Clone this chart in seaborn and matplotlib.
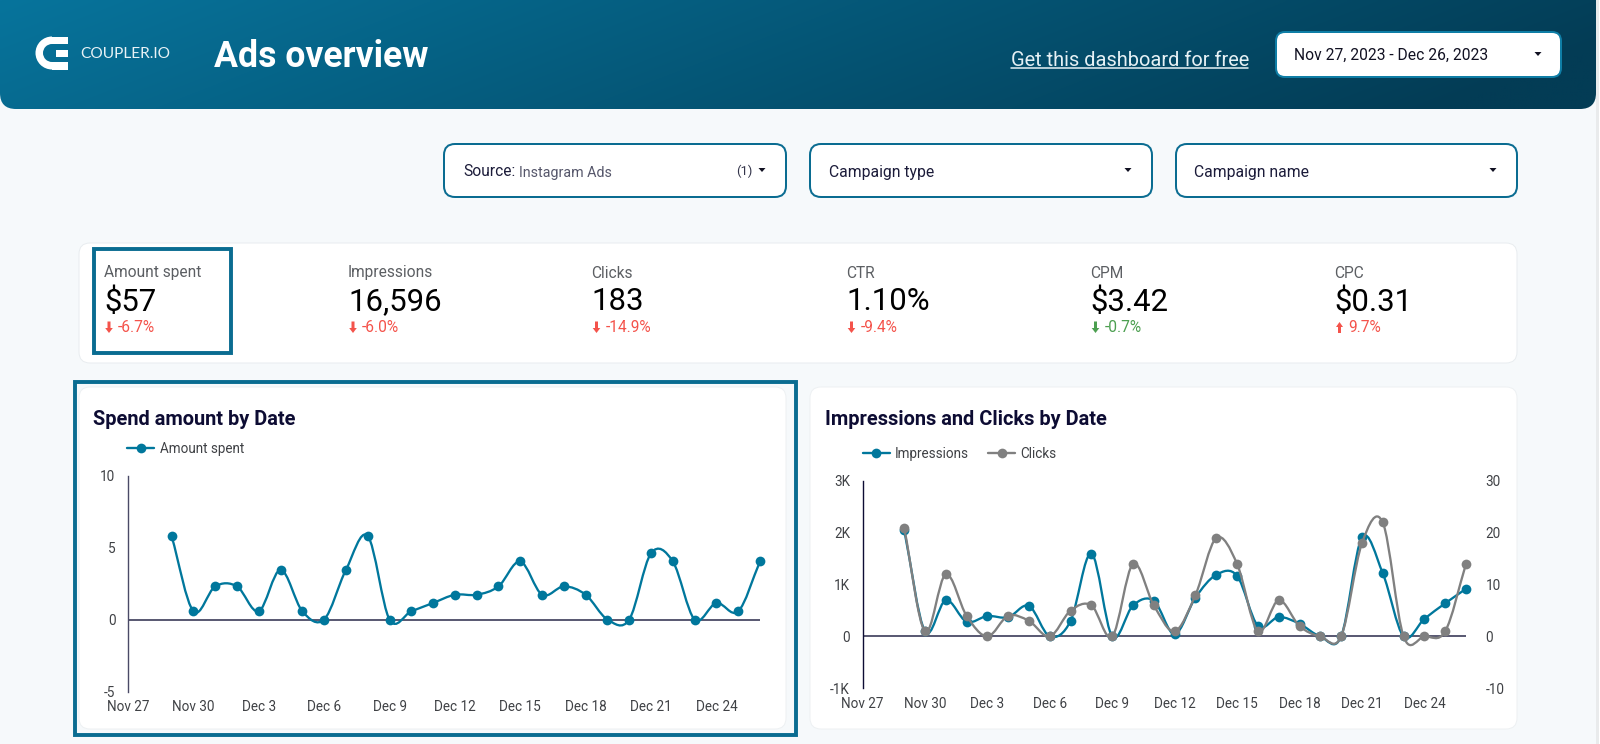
import numpy as np
import pandas as pd
import seaborn as sns
import matplotlib
matplotlib.use("Agg")
import matplotlib.pyplot as plt
import matplotlib.dates as mdates
from matplotlib.patches import FancyBboxPatch, PathPatch, Rectangle, Wedge, Polygon
from matplotlib.path import Path
from matplotlib.lines import Line2D

# ---------- data ----------
dates = pd.date_range("2023-11-29", "2023-12-26").tolist()
amount_spent = [5.8, 0.57, 2.3, 2.3, 0.57, 3.45, 0.57, 0, 3.45, 5.8, 0, 0.57, 1.15, 1.72,
                1.72, 2.3, 4.03, 1.72, 2.3, 1.72, 0, 0, 4.6, 4.03, 0, 1.15, 0.57, 4.03]
impressions = [2060, 100, 700, 285, 395, 370, 590, 0, 300, 1600, 0, 600, 690, 45,
               750, 1190, 1170, 205, 375, 245, 0, 0, 1910, 1220, 0, 340, 640, 920]
clicks = [21, 1, 12, 4, 0, 4, 3, 0, 5, 6, 0, 14, 6, 1,
          8, 19, 14, 1, 7, 2, 0, 0, 18, 22, 0, 0, 1, 14]
x_tick_dates = pd.date_range("2023-11-27", "2023-12-24", freq="3D").tolist()
x_tick_labels = ["Nov 27", "Nov 30", "Dec 3", "Dec 6", "Dec 9", "Dec 12", "Dec 15", "Dec 18", "Dec 21", "Dec 24"]
kpi_names = ["Amount spent", "Impressions", "Clicks", "CTR", "CPM", "CPC"]
kpi_values = ["$57", "16,596", "183", "1.10%", "$3.42", "$0.31"]
kpi_deltas = ["-6.7%", "-6.0%", "-14.9%", "-9.4%", "-0.7%", "9.7%"]
kpi_directions = ["down", "down", "down", "down", "down", "up"]
kpi_colors = ["#f4534b", "#f4534b", "#f4534b", "#f4534b", "#4c9f50", "#f4534b"]

# ---------- style ----------
sns.set_theme(style="white")
plt.rcParams["font.family"] = ["Roboto", "DejaVu Sans"]
BLUE = "#00779c"
GREY = "#808080"
FRAME = "#0a6c91"
NAVY = "#0d0c33"
AXIS = "#4a4a66"
TICK = "#3f4145"
W, H = 1600, 744


def fs(px):
    return px * 0.72


fig = plt.figure(figsize=(W / 100, H / 100), dpi=100, facecolor="#ffffff")
bg = fig.add_axes([0, 0, 1, 1], zorder=0)
bg.set_xlim(0, W)
bg.set_ylim(H, 0)
bg.axis("off")
bg.add_patch(Rectangle((0, 0), 1596, H, fc="#f6f9fb", ec="none"))
bg.add_patch(Rectangle((1596, 0), 3, H, fc="#e9ebec", ec="none"))


def rbox(x0, y0, x1, y1, r=10, fc="white", ec="none", lw=0, z=1):
    p = FancyBboxPatch((x0 + r, y0 + r), x1 - x0 - 2 * r, y1 - y0 - 2 * r,
                       boxstyle=f"round,pad={r},rounding_size={r}",
                       fc=fc, ec=ec, lw=lw * 0.72, zorder=z)
    bg.add_patch(p)
    return p


def txt(x, y, s, px, color="#000000", weight="normal", ha="left", family=None, z=5, va="center"):
    kw = {"family": family} if family else {}
    return bg.text(x, y, s, fontsize=fs(px), color=color, fontweight=weight,
                   ha=ha, va=va, zorder=z, **kw)


def caret(x, y, color="#111122"):
    bg.add_patch(Polygon([(x - 3.5, y - 2), (x + 3.5, y - 2), (x, y + 2)], fc=color, ec="none", zorder=5))


# ---------- header ----------
hdr = FancyBboxPatch((16, -30), 1596 - 32, 109 + 30 - 16, boxstyle="round,pad=16,rounding_size=16",
                     fc="none", ec="none", zorder=1)
bg.add_patch(hdr)
gx, gy = np.meshgrid(np.linspace(0, 1, 400), np.linspace(0, 1, 40))
t = np.clip(0.93 * gx + 0.16 * gy, 0, 1)
c0, c1 = np.array([0x07, 0x74, 0x9c]), np.array([0x03, 0x3c, 0x55])
grad = (c0[None, None, :] * (1 - t[..., None]) + c1[None, None, :] * t[..., None]) / 255
im = bg.imshow(grad, extent=(0, 1596, 109, 0), aspect="auto", zorder=1, interpolation="bilinear")
im.set_clip_path(hdr)
bg.set_xlim(0, W)
bg.set_ylim(H, 0)

# logo
bg.add_patch(Wedge((52, 53), 16.5, 90, 270, width=7.5, fc="white", ec="none", zorder=3))
bg.add_patch(Rectangle((52, 36.5), 16, 7.5, fc="white", ec="none", zorder=3))
bg.add_patch(Rectangle((52, 62), 16, 7.5, fc="white", ec="none", zorder=3))
bg.add_patch(Rectangle((56, 49.5), 12, 7, fc="white", ec="none", zorder=3))
txt(80, 54, "COUPLER.IO", 15.5, "#e8f2f6", family="Lato")

txt(214, 57, "Ads overview", 35.6, "white", "bold")
txt(1011, 60, "Get this dashboard for free", 20, "#e6f1f5")
bg.add_line(Line2D([1011, 1248], [67.5, 67.5], color="#e6f1f5", lw=1.1, zorder=5))
rbox(1276, 32, 1561, 77, r=9, fc="white", ec="#0f7ea6", lw=2, z=3)
txt(1294, 55, "Nov 27, 2023 - Dec 26, 2023", 15.6, "#111122")
caret(1538, 54)

# ---------- filters ----------
for x0, x1 in [(444, 786), (810, 1152), (1176, 1517)]:
    rbox(x0, 144, x1, 197, r=11, fc="white", ec=FRAME, lw=2, z=3)
txt(463, 176.5, "Source:", 15.5, "#1c1c3a", va="baseline")
txt(519, 176.5, "Instagram Ads", 14.3, "#55566a", va="baseline")
txt(736, 171, "(1)", 13, "#33344a")
caret(762, 170)
txt(829, 176.5, "Campaign type", 15.8, "#1c1c3a", va="baseline")
caret(1128, 170)
txt(1194.5, 176.5, "Campaign name", 15.8, "#1c1c3a", va="baseline")
caret(1493, 170)

# ---------- KPI row ----------
rbox(79, 243, 1517, 363, r=11, fc="white", ec="#e9edf0", lw=1, z=1)
bg.add_patch(Rectangle((94, 249), 137, 104, fc="none", ec=FRAME, lw=3 * 0.72 * 1.3, zorder=3))
kpi_x = [104, 348, 591.5, 846.5, 1090.5, 1334.5]
for x, n, v, d, dr, col in zip(kpi_x, kpi_names, kpi_values, kpi_deltas, kpi_directions, kpi_colors):
    txt(x, 277.5, n, 15.5, "#5c5f63", va="baseline")
    txt(x, 310.5, v, 31.2, "#000000", va="baseline")
    txt(x + 14, 332.5, d, 15.5, col, va="baseline")
    ax0 = x + 5
    if dr == "down":
        pts = [(ax0 - 1.5, 321.5), (ax0 + 1.5, 321.5), (ax0 + 1.5, 328), (ax0 + 3.8, 328), (ax0, 333), (ax0 - 3.8, 328), (ax0 - 1.5, 328)]
    else:
        pts = [(ax0 - 1.5, 333), (ax0 + 1.5, 333), (ax0 + 1.5, 327), (ax0 + 3.5, 327), (ax0, 322), (ax0 - 3.5, 327), (ax0 - 1.5, 327)]
    bg.add_patch(Polygon(pts, fc=col, ec="none", zorder=5))

# ---------- chart cards ----------
bg.add_patch(Rectangle((75, 382), 721, 353, fc="none", ec=FRAME, lw=3 * 0.72 * 1.3, zorder=3))
rbox(79, 387, 786, 729, r=11, fc="white", ec="#eef1f3", lw=1, z=1)
rbox(810, 387, 1517, 729, r=11, fc="white", ec="#eef1f3", lw=1, z=1)
txt(93, 425, "Spend amount by Date", 20, NAVY, "bold", va="baseline")
txt(825, 425, "Impressions and Clicks by Date", 20, NAVY, "bold", va="baseline")


def add_axes_px(x0, x1, ytop, ybot):
    return fig.add_axes([x0 / W, 1 - ybot / H, (x1 - x0) / W, (ybot - ytop) / H], zorder=2, facecolor="none")


def smooth(ax, xs, ys, color):
    """Draw a Catmull-Rom curve through the data as Bezier segments."""
    xn = mdates.date2num(xs)
    yv = np.asarray(ys, float)
    tx = np.gradient(xn)
    ty = np.r_[yv[1] - yv[0], (yv[2:] - yv[:-2]) / 2, yv[-1] - yv[-2]]
    verts = [(xn[0], yv[0])]
    codes = [Path.MOVETO]
    for i in range(len(xn) - 1):
        verts += [(xn[i] + tx[i] / 3, yv[i] + ty[i] / 3),
                  (xn[i + 1] - tx[i + 1] / 3, yv[i + 1] - ty[i + 1] / 3),
                  (xn[i + 1], yv[i + 1])]
        codes += [Path.CURVE4] * 3
    ax.add_patch(PathPatch(Path(verts, codes), fc="none", ec=color, lw=2 * 0.72 * 1.15, zorder=3,
                           capstyle="round", clip_on=False))


def draw_series(ax, values, color):
    df = pd.DataFrame({"date": dates, "value": values})
    smooth(ax, df["date"], df["value"], color)
    sns.lineplot(data=df, x="date", y="value", ax=ax, color=color, marker="o", markersize=7.8 * 0.72 * 1.25,
                 markeredgewidth=0, linestyle="none", legend=False, zorder=4, errorbar=None, clip_on=False)


def style_axes(ax, ylim, yticks, ylabels, tick_px_pad):
    ax.set_xlim(pd.Timestamp("2023-11-27"), pd.Timestamp("2023-12-26"))
    ax.set_ylim(*ylim)
    ax.set_xlabel("")
    ax.set_ylabel("")
    ax.set_xticks(x_tick_dates)
    ax.set_xticklabels(x_tick_labels, fontsize=fs(13.5), color=TICK)
    ax.set_yticks(yticks)
    ax.set_yticklabels(ylabels, fontsize=fs(13.5), color=TICK)
    ax.tick_params(axis="both", length=0)
    ax.tick_params(axis="x", pad=tick_px_pad)
    ax.tick_params(axis="y", pad=9)
    for s in ["top", "right", "bottom"]:
        ax.spines[s].set_visible(False)
    ax.spines["left"].set_color(AXIS)
    ax.spines["left"].set_linewidth(1.0)
    ax.axhline(0, color=AXIS, lw=1.3, zorder=2)
    ax.grid(False)


# ---------- left chart ----------
ax1 = add_axes_px(128, 760, 475.5, 691.5)
style_axes(ax1, (-5, 10), [-5, 0, 5, 10], ["-5", "0", "5", "10"], 6)
draw_series(ax1, amount_spent, BLUE)
ax1.set_xlim(pd.Timestamp("2023-11-27"), pd.Timestamp("2023-12-26"))
ax1.set_xlabel("")
ax1.set_ylabel("")


def legend_item(x0, y, label, color):
    bg.add_line(Line2D([x0, x0 + 27], [y, y], color=color, lw=1.7, zorder=5))
    bg.add_line(Line2D([x0 + 13.5], [y], color=color, marker="o", ms=7, mew=0, zorder=6))
    txt(x0 + 32.5, y + 4.8, label, 13.5, "#3f4145", va="baseline")


legend_item(127, 448, "Amount spent", BLUE)

# ---------- right chart ----------
ax2 = add_axes_px(862.5, 1466, 481, 688.3)
style_axes(ax2, (-1000, 3000), [-1000, 0, 1000, 2000, 3000], ["-1K", "0", "1K", "2K", "3K"], 6)
ax2.spines["left"].set_color(NAVY)
draw_series(ax2, impressions, BLUE)
ax2.set_xlabel("")
ax2.set_ylabel("")

ax3 = ax2.twinx()
ax3.set_facecolor("none")
draw_series(ax3, clicks, GREY)
ax3.set_ylim(-10, 30)
ax3.set_yticks([-10, 0, 10, 20, 30])
ax3.set_yticklabels(["-10", "0", "10", "20", "30"], fontsize=fs(13.5), color=TICK)
ax3.tick_params(axis="y", length=0, pad=14)
ax3.set_xlabel("")
ax3.set_ylabel("")
ax3.grid(False)
for s in ax3.spines.values():
    s.set_visible(False)
ax2.set_xlim(pd.Timestamp("2023-11-27"), pd.Timestamp("2023-12-26"))

legend_item(862.5, 453, "Impressions", BLUE)
legend_item(988, 453, "Clicks", GREY)

fig.savefig("out.png", dpi=100)
